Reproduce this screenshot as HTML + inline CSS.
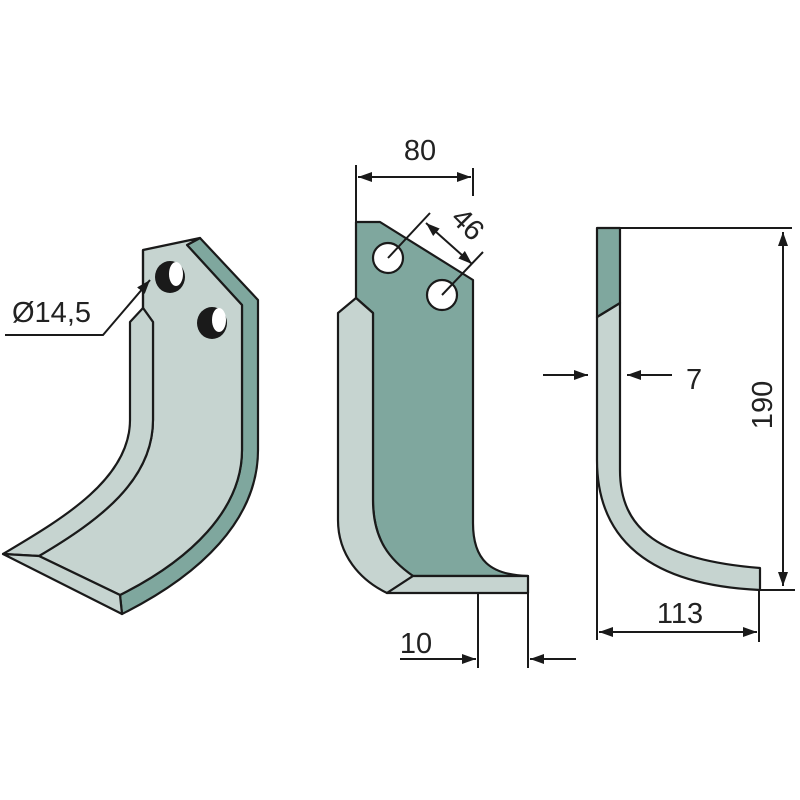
<!DOCTYPE html>
<html><head><style>body{margin:0;background:#fff}svg{display:block}</style></head><body>
<svg width="800" height="800" viewBox="0 0 800 800" xmlns="http://www.w3.org/2000/svg" font-family="Liberation Sans, sans-serif">
<defs>
<marker id="b" viewBox="0 0 14 10" refX="14" refY="5" markerWidth="14" markerHeight="10" orient="auto-start-reverse" markerUnits="userSpaceOnUse"><path d="M0,0 L14,5 L0,10 z" fill="#1a1a1a"/></marker>
</defs>
<g stroke="#1a1a1a" stroke-width="2.2" stroke-linejoin="round">
<path d="M200,238 L258,300 L258,450 C258,520 200,575 122,614 L120,595 C190,560 242,510 242,450 L242,305 L187,245 Z" fill="#7fa79e"/>
<path d="M143,250 L200,238 L187,245 L242,305 L242,450 C242,510 190,560 120,595 L39,556 C100,520 153,480 153,420 L153,322 L143,308 Z" fill="#c6d4d0"/>
<path d="M143,308 L153,322 L153,420 C153,480 100,520 39,556 L3,554 C60,520 130,480 130,420 L130,322 Z" fill="#c6d4d0"/>
<path d="M3,554 L39,556 L120,595 L122,614 Z" fill="#c6d4d0"/>
<line x1="143" y1="250" x2="143" y2="308"/>
</g>
<g>
<ellipse cx="170" cy="277" rx="15" ry="16" fill="#1a1a1a"/>
<ellipse cx="176" cy="274" rx="7" ry="12" fill="#fff"/>
<ellipse cx="212" cy="323" rx="15" ry="16" fill="#1a1a1a"/>
<ellipse cx="219" cy="320" rx="7" ry="12" fill="#fff"/>
</g>
<polyline points="5,335 103,335 150,280" fill="none" stroke="#1a1a1a" stroke-width="2" marker-end="url(#b)"/>
<text x="12" y="322" font-size="29" fill="#222">Ø14,5</text>

<g stroke="#1a1a1a" stroke-width="2.2" stroke-linejoin="round">
<path d="M356,222 L380,222 L473,280 L473,523 C473,560 490,575 528,576 L413,576 C390,560 373,540 373,500 L373,313 L356,298 Z" fill="#7fa79e"/>
<path d="M356,298 L373,313 L373,500 C373,540 390,560 413,576 L387,593 C360,580 338,555 338,520 L338,313 Z" fill="#c6d4d0"/>
<path d="M413,576 L528,576 L528,593 L387,593 Z" fill="#c6d4d0"/>
</g>
<g fill="#fff" stroke="#1a1a1a" stroke-width="2.2">
<circle cx="388" cy="258" r="15"/><circle cx="442" cy="295" r="15"/>
</g>
<g stroke="#1a1a1a" stroke-width="2" fill="none">
<line x1="356" y1="165" x2="356" y2="222"/><line x1="473" y1="168" x2="473" y2="196"/>
<line x1="358" y1="177" x2="471" y2="177" marker-start="url(#b)" marker-end="url(#b)"/>
<line x1="388" y1="258" x2="430" y2="213"/><line x1="442" y1="295" x2="483" y2="252"/>
<line x1="426" y1="223" x2="472" y2="264" marker-start="url(#b)" marker-end="url(#b)"/>
<line x1="478" y1="593" x2="478" y2="668"/><line x1="528" y1="593" x2="528" y2="668"/>
<line x1="400" y1="659" x2="476" y2="659" marker-end="url(#b)"/>
<line x1="576" y1="659" x2="530" y2="659" marker-end="url(#b)"/>
</g>
<text x="420" y="160" font-size="29" fill="#222" text-anchor="middle">80</text>
<text x="0" y="0" font-size="29" fill="#222" text-anchor="middle" transform="translate(461,231) rotate(45)">46</text>
<text x="416" y="653" font-size="29" fill="#222" text-anchor="middle">10</text>

<g stroke="#1a1a1a" stroke-width="2.2" stroke-linejoin="round">
<path d="M597,317 L620,303 L620,470 C620,530 660,560 760,568 L760,590 C650,585 597,540 597,460 Z" fill="#c6d4d0"/>
<path d="M597,228 L620,228 L620,303 L597,317 Z" fill="#7fa79e"/>
</g>
<g stroke="#1a1a1a" stroke-width="2" fill="none">
<line x1="620" y1="228" x2="792" y2="228"/>
<line x1="760" y1="590" x2="795" y2="590"/>
<line x1="783" y1="232" x2="783" y2="586" marker-start="url(#b)" marker-end="url(#b)"/>
<line x1="597" y1="460" x2="597" y2="640"/><line x1="759" y1="590" x2="759" y2="642"/>
<line x1="599" y1="632" x2="757" y2="632" marker-start="url(#b)" marker-end="url(#b)"/>
<line x1="543" y1="375" x2="588" y2="375" marker-end="url(#b)"/>
<line x1="672" y1="375" x2="627" y2="375" marker-end="url(#b)"/>
</g>
<text x="686" y="389" font-size="29" fill="#222">7</text>
<text x="0" y="0" font-size="29" fill="#222" text-anchor="middle" transform="translate(772,405) rotate(-90)">190</text>
<text x="680" y="623" font-size="29" fill="#222" text-anchor="middle">113</text>
</svg>
</body></html>
